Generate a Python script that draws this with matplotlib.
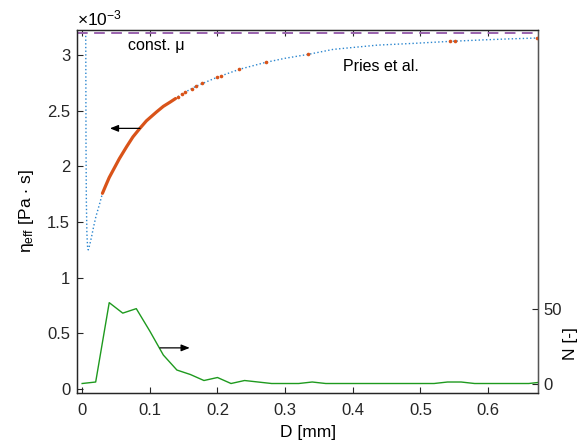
import matplotlib
matplotlib.use("Agg")
import matplotlib.pyplot as plt

plt.rcParams['font.family'] = ['Liberation Sans', 'DejaVu Sans']
plt.rcParams['mathtext.fontset'] = 'custom'
plt.rcParams['mathtext.rm'] = 'Liberation Sans'
plt.rcParams['mathtext.it'] = 'Liberation Sans:italic'
plt.rcParams['mathtext.bf'] = 'Liberation Sans:bold'

# Pries et al. effective viscosity curve (values in 1e-3 Pa*s)
D_pries = [0.0050, 0.0054, 0.0057, 0.0062, 0.0070, 0.0080, 0.0090, 0.0110, 0.0139,
           0.0170, 0.0203, 0.026, 0.030, 0.035, 0.040, 0.046, 0.055, 0.0657, 0.075,
           0.0853, 0.095, 0.110, 0.120, 0.135, 0.147, 0.168, 0.199, 0.232, 0.271,
           0.300, 0.334, 0.371, 0.436, 0.490, 0.544, 0.588, 0.630, 0.672, 0.680]
eta_pries = [3.60, 3.00, 2.20, 1.70, 1.40, 1.28, 1.25, 1.29, 1.368,
             1.46, 1.548, 1.668, 1.758, 1.830, 1.900, 1.968, 2.070, 2.177, 2.265,
             2.342, 2.410, 2.490, 2.540, 2.597, 2.650, 2.720, 2.800, 2.872, 2.935,
             2.972, 3.007, 3.052, 3.090, 3.106, 3.124, 3.136, 3.146, 3.154, 3.156]

# vessel samples (dense band + sparse points), values in 1e-3 Pa*s
D_dense = [0.030, 0.035, 0.040, 0.046, 0.055, 0.0657, 0.075, 0.0853, 0.095,
           0.110, 0.120, 0.130, 0.138]
eta_dense = [1.758, 1.830, 1.900, 1.968, 2.070, 2.177, 2.265, 2.342, 2.410,
             2.490, 2.540, 2.578, 2.610]
D_sparse = [0.142, 0.147, 0.152, 0.162, 0.168, 0.177, 0.199, 0.205, 0.232, 0.271,
            0.334, 0.544, 0.551, 0.672]
eta_sparse = [2.627, 2.650, 2.668, 2.700, 2.720, 2.747, 2.800, 2.815, 2.872, 2.935,
              3.007, 3.124, 3.124, 3.154]

# constant viscosity (1e-3 Pa*s)
eta_const = 3.2

# histogram of vessel diameters
D_bins = [0.00, 0.02, 0.04, 0.06, 0.08, 0.10, 0.12, 0.14, 0.16, 0.18, 0.20, 0.22,
          0.24, 0.26, 0.28, 0.30, 0.32, 0.34, 0.36, 0.38, 0.40, 0.42, 0.44, 0.46,
          0.48, 0.50, 0.52, 0.54, 0.56, 0.58, 0.60, 0.62, 0.64, 0.66, 0.68]
N_counts = [0, 1, 54, 47, 50, 35, 19, 9, 6, 2, 4, 0,
            2, 1, 0, 0, 0, 1, 0, 0, 0, 0, 0, 0,
            0, 0, 0, 1, 1, 0, 0, 0, 0, 0, 1]

xticks = [0, 0.1, 0.2, 0.3, 0.4, 0.5, 0.6]
xticklabels = ['0', '0.1', '0.2', '0.3', '0.4', '0.5', '0.6']
yticks = [0, 0.5, 1, 1.5, 2, 2.5, 3]
yticklabels = ['0', '0.5', '1', '1.5', '2', '2.5', '3']
y2ticks = [0, 50]

blue = '#2B86CF'
orange = '#D95319'
purple = '#9A62AE'
green = '#1E9A1E'
axcol = '#262626'

fig = plt.figure(figsize=(5.8, 4.43), dpi=100)
ax = fig.add_axes([0.133, 0.113, 0.795, 0.819])
ax2 = ax.twinx()

ax.plot(D_pries, eta_pries, linestyle=':', color=blue, lw=1.0, zorder=2)
ax.plot(D_dense, eta_dense, '-', color=orange, lw=2.3, solid_capstyle='round',
        solid_joinstyle='round', zorder=3)
ax.plot(D_sparse, eta_sparse, 'o', color=orange, ms=2.6, mew=0, zorder=3)
ax.axhline(eta_const, color=purple, lw=1.4, dashes=(5.5, 3.3), zorder=2)

ax2.plot(D_bins, N_counts, '-', color=green, lw=1.0)

ax.set_xlim(-0.0074, 0.674)
ax.set_ylim(-0.036, 3.225)
ax2.set_ylim(-6.3, 236)

ax.set_xticks(xticks)
ax.set_xticklabels(xticklabels)
ax.set_yticks(yticks)
ax.set_yticklabels(yticklabels)
ax2.set_yticks(y2ticks)
ax2.set_yticklabels([str(v) for v in y2ticks])

ax.tick_params(direction='in', length=4.3, width=0.8, top=True, right=False,
               labelsize=12, colors=axcol, pad=5)
ax.tick_params(axis='x', pad=7)
ax2.tick_params(direction='in', length=4.3, width=0.8, labelsize=12, colors=axcol, pad=4)

for sp in ax.spines.values():
    sp.set_color(axcol)
    sp.set_linewidth(0.9)
for sp in ax2.spines.values():
    sp.set_color(axcol)
    sp.set_linewidth(0.9)
ax2.spines['right'].set_color('#555555')

ax.set_xlabel('D [mm]', fontsize=12.5, labelpad=5)
ax.set_ylabel(r'$\mathregular{η_{eff}}$ [Pa $\mathregular{\cdot}$ s]', fontsize=12.5, labelpad=8)
ax2.set_ylabel('N [-]', fontsize=12.5)
ax2.yaxis.set_label_coords(1.054, 0.135)

ax.text(0, 1.006, r'$\mathregular{\times10^{-3}}$', transform=ax.transAxes,
        ha='left', va='bottom', fontsize=12.5)

ax.text(0.068, 3.09, 'const. \u03bc', fontsize=11.5, ha='left', va='center')
ax.text(0.385, 2.896, 'Pries et al.', fontsize=11.5, ha='left', va='center')

ax.annotate('', xy=(0.041, 2.342), xytext=(0.0855, 2.342),
            arrowprops=dict(arrowstyle='-|>,head_length=0.5,head_width=0.2',
                            color='black', lw=0.9, shrinkA=0, shrinkB=0))
ax2.annotate('', xy=(0.159, 23.8), xytext=(0.115, 23.8),
             arrowprops=dict(arrowstyle='-|>,head_length=0.5,head_width=0.2',
                             color='black', lw=0.9, shrinkA=0, shrinkB=0))

fig.savefig('out.png', dpi=100)
